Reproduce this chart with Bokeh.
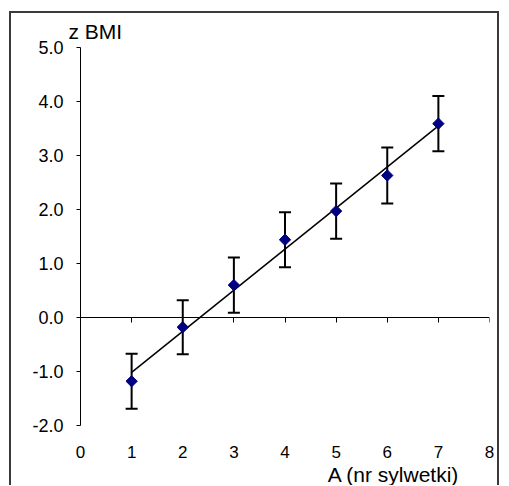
import numpy as np
from bokeh.plotting import figure
from bokeh.models import (ColumnDataSource, Whisker, TeeHead, LinearAxis, Title,
                          FixedTicker, Range1d)
from bokeh.embed import file_html
from bokeh.resources import INLINE

# ---- data ----
silhouette = [1, 2, 3, 4, 5, 6, 7]
z_bmi = [-1.18, -0.18, 0.60, 1.44, 1.97, 2.63, 3.59]
err = [0.51, 0.50, 0.51, 0.51, 0.51, 0.52, 0.51]
x_ticks = [0, 1, 2, 3, 4, 5, 6, 7, 8]
y_ticks = [-2, -1, 0, 1, 2, 3, 4, 5]
x_title = "A (nr sylwetki)"
y_title = "z BMI"

FONT = "Liberation Sans"

upper = [v + e for v, e in zip(z_bmi, err)]
lower = [v - e for v, e in zip(z_bmi, err)]
src = ColumnDataSource(dict(x=silhouette, y=z_bmi, upper=upper, lower=lower))

slope, intercept = np.polyfit(silhouette, z_bmi, 1)
trend_x = [min(silhouette), max(silhouette)]
trend_y = [intercept + slope * v for v in trend_x]

p = figure(width=486, height=473, output_backend="svg", toolbar_location=None,
           x_range=Range1d(0, 8), y_range=Range1d(-2, 5),
           frame_width=409, frame_height=378,
           min_border_left=69, min_border_top=34, min_border_right=8,
           min_border_bottom=60, x_axis_location=None, y_axis_location=None)
p.outline_line_color = None
p.xgrid.visible = False
p.ygrid.visible = False
p.background_fill_color = "white"
p.border_fill_color = "white"
p.styles = {"border-left": "2px solid #3a3a3a", "border-top": "2px solid #3a3a3a",
            "border-right": "2px solid #3a3a3a", "margin-left": "9px",
            "margin-top": "11px", "box-sizing": "content-box"}

# titles
p.title.text = y_title
p.title.align = "left"
p.title.offset = -12
p.title.text_font = FONT
p.title.text_font_size = "21px"
p.title.text_font_style = "normal"
p.title.text_color = "black"
p.title.standoff = 9

# y axis (left)
yax = LinearAxis(ticker=FixedTicker(ticks=y_ticks))
yax.major_label_overrides = {t: f"{t:.1f}" for t in y_ticks}
yax.axis_line_color = "black"
yax.major_tick_line_color = "black"
yax.major_tick_out = 4
yax.major_tick_in = 0
yax.minor_tick_line_color = None
yax.major_label_standoff = 13
yax.major_label_text_font = FONT
yax.major_label_text_font_size = "18px"
yax.major_label_text_color = "black"
p.add_layout(yax, "left")

# x axis line at y = 0 (no labels)
xax0 = LinearAxis(ticker=FixedTicker(ticks=x_ticks), fixed_location=0)
xax0.axis_line_color = "black"
xax0.major_tick_line_color = "black"
xax0.major_tick_out = 5
xax0.major_tick_in = 0
xax0.minor_tick_line_color = None
xax0.major_label_text_color = None
xax0.major_label_text_font_size = "0px"
p.add_layout(xax0, "below")

# x labels at the bottom
xax = LinearAxis(ticker=FixedTicker(ticks=x_ticks))
xax.axis_line_color = None
xax.major_tick_line_color = None
xax.minor_tick_line_color = None
xax.major_label_standoff = 14
xax.major_label_text_font = FONT
xax.major_label_text_font_size = "17px"
xax.major_label_text_color = "black"
p.add_layout(xax, "below")

p.add_layout(Title(text=x_title, align="right", offset=30, standoff=0,
                   text_font=FONT, text_font_size="21px", text_font_style="normal",
                   text_color="black"), "below")

# trend line
p.line(trend_x, trend_y, line_color="black", line_width=1.5)

# error bars
p.add_layout(Whisker(source=src, base="x", upper="upper", lower="lower",
                     line_color="black", line_width=2,
                     upper_head=TeeHead(size=12, line_color="black", line_width=2),
                     lower_head=TeeHead(size=12, line_color="black", line_width=2)))

# points
p.scatter("x", "y", source=src, marker="square", angle=np.pi / 4, size=8,
          fill_color="#000080", line_color="#000080")

open("out.html", "w").write(file_html(p, INLINE))
